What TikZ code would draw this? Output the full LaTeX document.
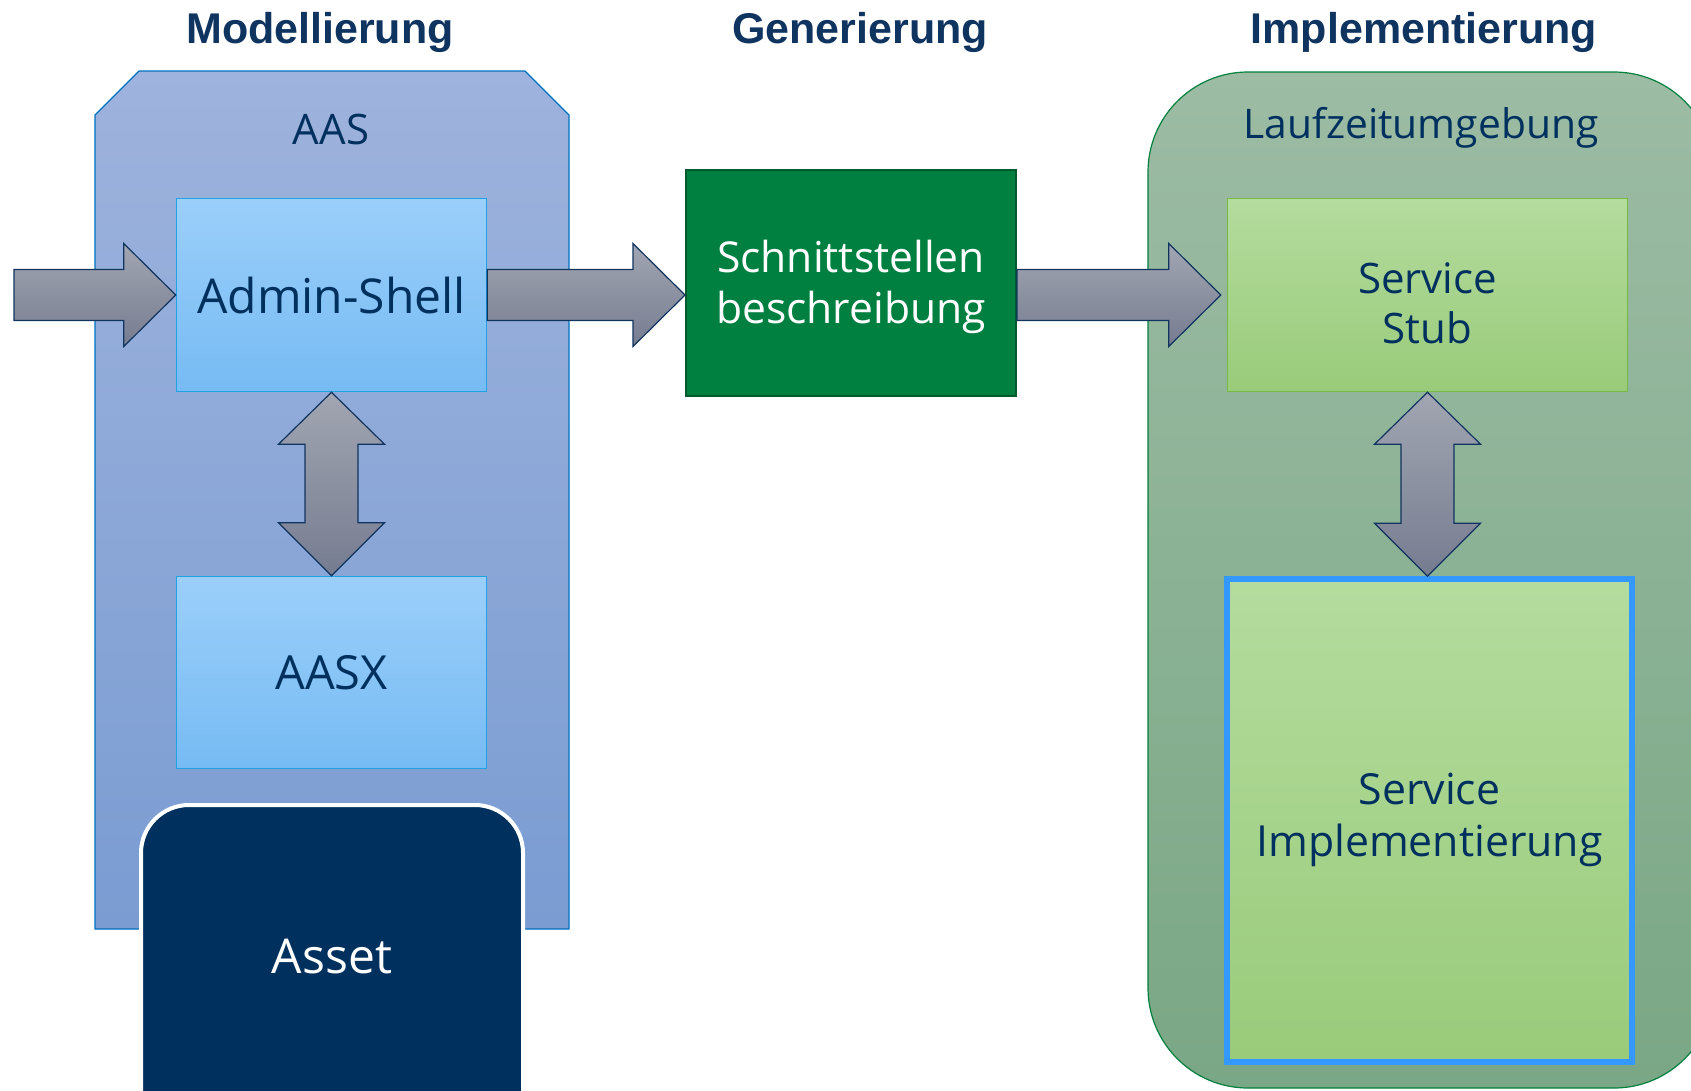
\documentclass[tikz,border=0pt]{standalone}
\usepackage{fontspec}
\setmainfont{Open Sans}
\newfontfamily\titelfont{Liberation Sans}
\usetikzlibrary{calc}

\definecolor{navy}{RGB}{0,48,94}
\definecolor{titelblau}{RGB}{16,52,96}
\definecolor{aasoben}{RGB}{158,179,221}
\definecolor{aasunten}{RGB}{122,156,210}
\definecolor{aasrand}{RGB}{0,112,192}
\definecolor{hellblauoben}{RGB}{155,207,250}
\definecolor{hellblauunten}{RGB}{118,187,243}
\definecolor{hellblaurand}{RGB}{33,163,226}
\definecolor{pfeiloben}{RGB}{162,166,178}
\definecolor{pfeilunten}{RGB}{118,124,144}
\definecolor{schnittgruen}{RGB}{0,128,64}
\definecolor{schnittrand}{RGB}{0,90,45}
\definecolor{lzuoben}{RGB}{156,188,164}
\definecolor{lzuunten}{RGB}{122,167,133}
\definecolor{lzurand}{RGB}{0,128,60}
\definecolor{hellgruenoben}{RGB}{180,220,158}
\definecolor{hellgruenunten}{RGB}{153,203,122}
\definecolor{hellgruenrand}{RGB}{120,185,70}
\definecolor{implrand}{RGB}{51,153,255}

% block arrow to the right: start point, tip point (y from start)
\newcommand{\pfeilR}[2]{%
  \draw[pfeil] let \p1=(#1), \p2=(#2) in
    (\x1,\y1+25.5pt) -- (\x2-52pt,\y1+25.5pt) -- (\x2-52pt,\y1+51.5pt) -- (\x2,\y1)
    -- (\x2-52pt,\y1-51.5pt) -- (\x2-52pt,\y1-25.5pt) -- (\x1,\y1-25.5pt) -- cycle;}

% vertical double block arrow: top tip, bottom tip
\newcommand{\pfeilV}[2]{%
  \draw[pfeil] let \p1=(#1), \p2=(#2) in
    (\x1,\y1) -- (\x1+53pt,\y1-52pt) -- (\x1+26.5pt,\y1-52pt) -- (\x1+26.5pt,\y2+53pt)
    -- (\x1+53pt,\y2+53pt) -- (\x1,\y2) -- (\x1-53pt,\y2+53pt) -- (\x1-26.5pt,\y2+53pt)
    -- (\x1-26.5pt,\y1-52pt) -- (\x1-53pt,\y1-52pt) -- cycle;}

\begin{document}
\begin{tikzpicture}[x=1pt,y=-1pt,
  titel/.style={anchor=base, text=titelblau, font=\titelfont\bfseries\fontsize{43}{50}\selectfont},
  pfeil/.style={draw=titelblau, line width=1.2pt, top color=pfeiloben, bottom color=pfeilunten},
  blaubox/.style={draw=hellblaurand, line width=1.5pt, top color=hellblauoben,
    bottom color=hellblauunten, text=navy, minimum width=310pt},
  gruenbox/.style={draw=hellgruenrand, line width=1.5pt, top color=hellgruenoben,
    bottom color=hellgruenunten, text=navy, align=center}]

\useasboundingbox (0,0) rectangle (1691,1090);

% Titles
\node[titel] (tmod) at (320,43) {Modellierung};
\node[titel] (tgen) at (860,43) {Generierung};
\node[titel] (timp) at (1424,43) {Implementierung};

% AAS container
\draw[draw=aasrand, line width=1.2pt, top color=aasoben, bottom color=aasunten]
  (95,929) -- (95,115) -- (139,71) -- (525,71) -- (569,115) -- (569,929) -- cycle;
\node[anchor=base, text=navy, font=\fontsize{42}{50}\selectfont] (aas) at (331,144) {AAS};

% Laufzeitumgebung container
\draw[draw=lzurand, line width=1.2pt, top color=lzuoben, bottom color=lzuunten,
  rounded corners=100pt] (1148,72) rectangle (1714,1088);
\node[anchor=base, text=navy, font=\fontsize{40.8}{48}\selectfont] (lzu) at (1421,138) {Laufzeitumgebung};

% AAS content
\node[blaubox, minimum height=193pt, font=\fontsize{48}{57}\selectfont] (as) at (331.5,295) {Admin-Shell};
\node[blaubox, minimum height=192pt, font=\fontsize{47}{56}\selectfont] (aasx) at (331.5,672.5) {AASX};

% Asset
\node[draw=white, line width=4pt, fill=navy, rounded corners=48pt, text=white, anchor=north,
  minimum width=382pt, minimum height=420pt, text height=34pt, text depth=118pt,
  font=\fontsize{48}{57}\selectfont] (asset) at (332,803) {Asset};

% Schnittstellenbeschreibung
\node[draw=schnittrand, line width=2pt, fill=schnittgruen, text=white, align=center,
  minimum width=330pt, minimum height=226pt, text height=84pt, text depth=4pt,
  font=\fontsize{42.6}{50.5}\selectfont] (schnitt) at (851,283) {Schnittstellen\\beschreibung};

% Runtime content
\node[gruenbox, minimum width=400pt, minimum height=193pt, text height=96pt, text depth=0pt,
  font=\fontsize{42}{50}\selectfont] (stub) at (1427.5,295) {Service\\Stub};
\node[gruenbox, draw=implrand, line width=5.6pt, minimum width=405pt, minimum height=483pt,
  text height=88pt, text depth=16pt,
  font=\fontsize{42.8}{52}\selectfont] (impl) at (1429.5,820.5) {Service\\Implementierung};

% Arrows
\coordinate (ein) at (14,295);
\coordinate (stubein) at ([xshift=-6pt]stub.west);
\pfeilR{ein}{as.west}
\pfeilR{as.east}{schnitt.west}
\pfeilR{schnitt.east |- stub.west}{stubein}
\pfeilV{as.south}{aasx.north}
\pfeilV{stub.south}{impl.north}

\end{tikzpicture}
\end{document}
